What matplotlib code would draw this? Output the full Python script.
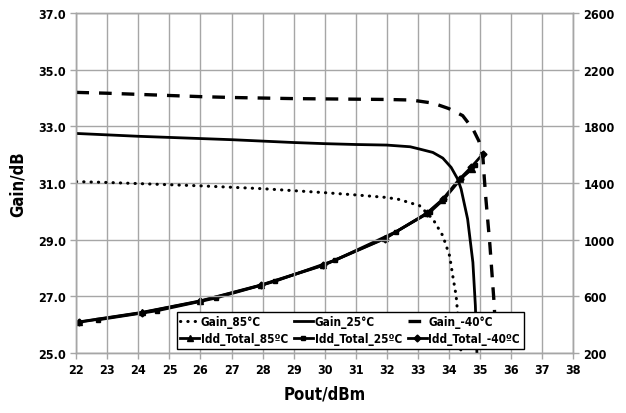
import matplotlib
matplotlib.use("Agg")
import matplotlib.pyplot as plt
import numpy as np

# ---- data ----
g85_x = [22, 23, 24, 25, 26, 27, 28, 29, 30, 31, 32, 32.4, 33.06, 33.49, 33.81, 34.03,
         34.13, 34.24, 34.4]
g85_y = [31.05, 31.02, 30.98, 30.94, 30.9, 30.85, 30.8, 30.73, 30.66, 30.58, 30.49, 30.42,
         30.2, 29.73, 29.14, 28.43, 27.73, 27.02, 25.0]

g25_x = [22, 23, 24, 25, 26, 27, 28, 29, 30, 31, 32, 32.76, 33.06, 33.49, 33.81, 34.08,
         34.29, 34.4, 34.61, 34.78, 34.86, 34.91]
g25_y = [32.75, 32.7, 32.65, 32.61, 32.57, 32.53, 32.48, 32.43, 32.39, 32.36, 32.34, 32.28,
         32.2, 32.08, 31.88, 31.55, 31.14, 30.79, 29.73, 28.2, 26.67, 25.0]

g40_x = [22, 23, 24, 25, 26, 27, 28, 29, 30, 31, 32, 32.8, 33.5, 34.0, 34.45, 34.78, 34.97,
         35.1, 35.15, 35.2, 35.33, 35.47, 35.53]
g40_y = [34.2, 34.17, 34.13, 34.09, 34.05, 34.02, 34.0, 33.98, 33.97, 33.96, 33.95, 33.93,
         33.82, 33.63, 33.38, 32.91, 32.49, 31.96, 31.14, 30.43, 28.79, 26.67, 25.0]

i85_x = [22.1, 24.1, 26.0, 27.95, 29.95, 31.95, 33.3, 33.8, 34.35, 34.76]
i85_y = [420, 486, 568, 680, 820, 1010, 1185, 1280, 1425, 1500]

i25_x = [22.7, 24.6, 26.5, 28.4, 30.35, 32.3, 33.4, 33.85, 34.4, 34.85]
i25_y = [434, 498, 588, 706, 856, 1056, 1195, 1286, 1432, 1525]

i40_x = [22.1, 24.1, 26.0, 27.95, 29.95, 31.95, 33.3, 33.81, 34.35, 34.72, 35.1]
i40_y = [418, 484, 566, 678, 818, 1008, 1188, 1286, 1428, 1510, 1605]

x_ticks = np.arange(22, 39, 1)
left_ticks = [25.0, 27.0, 29.0, 31.0, 33.0, 35.0, 37.0]
right_ticks = [200, 600, 1000, 1400, 1800, 2200, 2600]

# ---- fonts ----
plt.rcParams['font.family'] = ['DejaVu Sans']
plt.rcParams['font.stretch'] = 'condensed'
plt.rcParams['font.weight'] = 'bold'

grid_c = '#a6a6a6'

fig = plt.figure(figsize=(6.26, 4.14), dpi=100)
ax = fig.add_axes([0.122, 0.145, 0.793, 0.821])
ax2 = ax.twinx()

ax.set_xlim(22, 38)
ax.set_ylim(25, 37)
ax2.set_ylim(200, 2600)
ax.set_xticks(x_ticks)
ax.set_yticks(left_ticks)
ax.set_yticklabels([f"{v:.1f}" for v in left_ticks])
ax2.set_yticks(right_ticks)
ax.grid(True, color=grid_c, linewidth=1.0)
ax.set_axisbelow(True)

for a in (ax, ax2):
    for s in a.spines.values():
        s.set_color(grid_c)
        s.set_linewidth(1.0)
    a.tick_params(colors=grid_c, labelcolor='black', length=4, width=1.0, labelsize=9)

lw = 2.0
h_g85, = ax.plot(g85_x, g85_y, color='black', lw=2.2, linestyle=(0, (0.1, 2.3)),
                 dash_capstyle='round', label='Gain_85\u00b0C')
h_g25, = ax.plot(g25_x, g25_y, color='black', lw=lw, label='Gain_25\u00b0C')
h_g40, = ax.plot(g40_x, g40_y, color='black', lw=2.4, linestyle=(0, (3.8, 3.0)),
                 label='Gain_-40\u00b0C')

h_i85, = ax2.plot(i85_x, i85_y, color='black', lw=lw, marker='^', ms=4,
                  label='Idd_Total_85\u00baC')
h_i25, = ax2.plot(i25_x, i25_y, color='black', lw=lw, marker='s', ms=3.5,
                  label='Idd_Total_25\u00baC')
h_i40, = ax2.plot(i40_x, i40_y, color='black', lw=lw, marker='D', ms=3.5,
                  label='Idd_Total_-40\u00baC')

ax.set_xlabel('Pout/dBm', fontsize=12, fontweight='bold', labelpad=6)
ax.set_ylabel('Gain/dB', fontsize=12, fontweight='bold', labelpad=8)

handles = [h_g85, h_i85, h_g25, h_i25, h_g40, h_i40]
leg = ax.legend(handles=handles, ncol=3, loc='lower left', bbox_to_anchor=(0.202, 0.012),
                fontsize=8.5, frameon=True, fancybox=False, framealpha=1,
                edgecolor='black', handlelength=1.6, handletextpad=0.15,
                columnspacing=0.5, labelspacing=0.35, borderpad=0.3,
                borderaxespad=0)
leg.get_frame().set_linewidth(1.0)
leg.set_zorder(5)
ax.set_zorder(ax2.get_zorder() + 1)
ax.patch.set_visible(False)

fig.savefig('out.png', dpi=100)
